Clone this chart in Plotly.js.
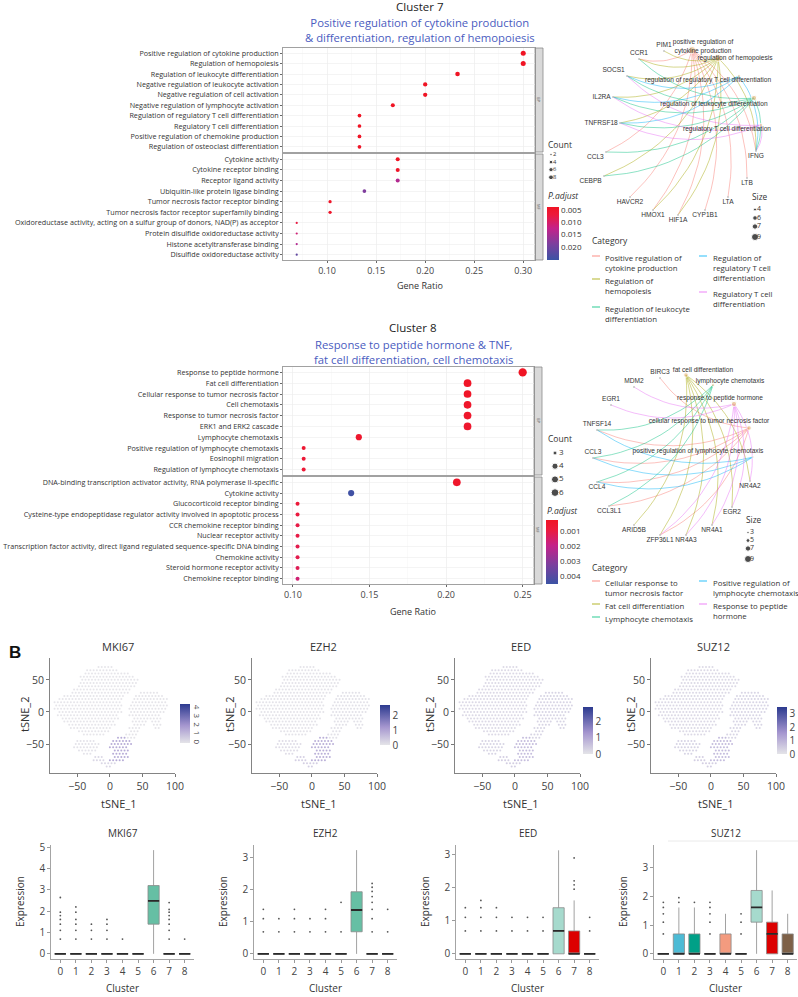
<!DOCTYPE html>
<html><head><meta charset="utf-8">
<script src="https://cdn.plot.ly/plotly-3.0.1.min.js"></script>
<style>html,body{margin:0;padding:0;background:#fff}#chart{width:798px;height:997px}</style>
</head><body><div id="chart"></div>
<script>
// ================= DATA =================
// Cluster 7 enrichment
const c7BpTerms = ['Positive regulation of cytokine production','Regulation of hemopoiesis','Regulation of leukocyte differentiation','Negative regulation of leukocyte activation','Negative regulation of cell activation','Negative regulation of lymphocyte activation','Regulation of regulatory T cell differentiation','Regulatory T cell differentiation','Positive regulation of chemokine production','Regulation of osteoclast differentiation'];
const c7BpRatio = [0.300,0.300,0.233,0.200,0.200,0.167,0.133,0.133,0.133,0.133];
const c7BpCount = [9,9,7,6,6,5,4,4,4,4];
const c7BpPadj  = [0.0022,0.0024,0.0030,0.0032,0.0034,0.0036,0.0038,0.0040,0.0042,0.0044];
const c7MfTerms = ['Cytokine activity','Cytokine receptor binding','Receptor ligand activity','Ubiquitin-like protein ligase binding','Tumor necrosis factor receptor binding','Tumor necrosis factor receptor superfamily binding','Oxidoreductase activity, acting on a sulfur group of donors, NAD(P) as acceptor','Protein disulfide oxidoreductase activity','Histone acetyltransferase binding','Disulfide oxidoreductase activity'];
const c7MfRatio = [0.172,0.172,0.172,0.138,0.103,0.103,0.069,0.069,0.069,0.069];
const c7MfCount = [5,5,5,4,3,3,2,2,2,2];
const c7MfPadj  = [0.0040,0.0045,0.0140,0.0185,0.0045,0.0048,0.0075,0.0110,0.0140,0.0215];
// Cluster 8 enrichment
const c8BpTerms = ['Response to peptide hormone','Fat cell differentiation','Cellular response to tumor necrosis factor','Cell chemotaxis','Response to tumor necrosis factor','ERK1 and ERK2 cascade','Lymphocyte chemotaxis','Positive regulation of lymphocyte chemotaxis','Eosinophil migration','Regulation of lymphocyte chemotaxis'];
const c8BpRatio = [0.250,0.214,0.214,0.214,0.214,0.214,0.143,0.107,0.107,0.107];
const c8BpCount = [7,6,6,6,6,6,4,3,3,3];
const c8BpPadj  = [0.0002,0.0003,0.0003,0.0004,0.0004,0.0005,0.0005,0.0006,0.0007,0.0007];
const c8MfTerms = ['DNA-binding transcription activator activity, RNA polymerase II-specific','Cytokine activity','Glucocorticoid receptor binding','Cysteine-type endopeptidase regulator activity involved in apoptotic process','CCR chemokine receptor binding','Nuclear receptor activity','Transcription factor activity, direct ligand regulated sequence-specific DNA binding','Chemokine activity','Steroid hormone receptor activity','Chemokine receptor binding'];
const c8MfRatio = [0.207,0.138,0.103,0.103,0.103,0.103,0.103,0.103,0.103,0.103];
const c8MfCount = [6,4,3,3,3,3,3,3,3,3];
const c8MfPadj  = [0.0004,0.0044,0.0008,0.0009,0.0010,0.0010,0.0011,0.0011,0.0012,0.0016];
const c7CountLegend = [2,4,6,8];
const c8CountLegend = [3,4,5,6];
const c7PadjTicks = [0.005,0.010,0.015,0.020];
const c8PadjTicks = [0.001,0.002,0.003,0.004];

// Cluster 7 gene-concept network
const net7Genes = ['PIM1','CCR1','SOCS1','IL2RA','TNFRSF18','CCL3','CEBPB','HAVCR2','HMOX1','HIF1A','CYP1B1','LTA','LTB','IFNG'];
const net7GeneX = [664,639,627,613,620,606,604,630,653,678,705,728,747,756];
const net7GeneY = [51,59,76,97,123,152,176,197,210,215,210,197,178,151];
const net7GenePos = ['top center','top center','top left','middle left','middle left','bottom left','bottom left','bottom center','bottom center','bottom center','bottom center','bottom center','bottom center','bottom center'];
const net7Cats = ['Positive regulation of cytokine production','Regulation of hemopoiesis','Regulation of leukocyte differentiation','Regulation of regulatory T cell differentiation','Regulatory T cell differentiation'];
const net7CatLabels = ['positive regulation of<br>cytokine production','regulation of hemopoiesis','regulation of leukocyte differentiation','regulation of regulatory T cell differentiation','regulatory T cell differentiation'];
const net7CatX = [692,718,754,739,761];
const net7CatY = [50,58,98,76,125];
const net7CatLabX = [703,735,714,708,727];
const net7CatLabY = [47,58,104,80,129];
const net7CatCount = [9,9,7,4,4];
const net7Members = [
  ['CCR1','CCL3','HAVCR2','HMOX1','HIF1A','CYP1B1','LTA','LTB','IFNG'],
  ['PIM1','SOCS1','IL2RA','TNFRSF18','CEBPB','HIF1A','IFNG','HMOX1','CCR1'],
  ['CCR1','SOCS1','IL2RA','TNFRSF18','CCL3','CEBPB','IFNG'],
  ['SOCS1','IL2RA','TNFRSF18','IFNG'],
  ['SOCS1','IL2RA','TNFRSF18','IFNG']
];
const net7LegendText = ['Positive regulation of<br>cytokine production','Regulation of<br>hemopoiesis','Regulation of leukocyte<br>differentiation','Regulation of<br>regulatory T cell<br>differentiation','Regulatory T cell<br>differentiation'];
const net7SizeLegend = [4,6,7,9];

// Cluster 8 gene-concept network
const net8Genes = ['BIRC3','MDM2','EGR1','TNFSF14','CCL3','CCL4','CCL3L1','ARID5B','ZFP36L1','NR4A3','NR4A1','EGR2','NR4A2'];
const net8GeneX = [660,634,611,597,593,597,609,634,660,686,712,732,750];
const net8GeneY = [378,387,405,430,458,482,506,525,535,535,525,507,481];
const net8GenePos = ['top center','top center','top center','top center','top center','bottom center','bottom center','bottom center','bottom center','bottom center','bottom center','bottom center','bottom center'];
const net8Cats = ['Cellular response to tumor necrosis factor','Fat cell differentiation','Lymphocyte chemotaxis','Positive regulation of lymphocyte chemotaxis','Response to peptide hormone'];
const net8CatLabels = ['cellular response to tumor necrosis factor','fat cell differentiation','lymphocyte chemotaxis','positive regulation of lymphocyte chemotaxis','response to peptide hormone'];
const net8CatX = [749,686,713,753,734];
const net8CatY = [428,375,385,457,404];
const net8CatLabX = [709,703,730,698,720];
const net8CatLabY = [421,370,381,451,398];
const net8CatCount = [6,6,4,3,7];
const net8Members = [
  ['BIRC3','CCL3','CCL4','CCL3L1','TNFSF14','ZFP36L1'],
  ['ARID5B','EGR2','NR4A1','NR4A2','NR4A3','ZFP36L1'],
  ['CCL3','CCL4','CCL3L1','TNFSF14'],
  ['CCL3','CCL4','TNFSF14'],
  ['MDM2','EGR1','EGR2','NR4A1','NR4A2','NR4A3','ZFP36L1']
];
const net8LegendText = ['Cellular response to<br>tumor necrosis factor','Fat cell differentiation','Lymphocyte chemotaxis','Positive regulation of<br>lymphocyte chemotaxis','Response to peptide<br>hormone'];
const net8SizeLegend = [3,5,7,9];

const tsneRowY = [75,70,65,60,55,50,45,40,35,30,25,20,15,10,5,0,-5,-10,-15,-20,-25,-30,-35,-40,-45,-50,-55,-60,-65,-70,-75,-80,-85];
const tsneRowRuns = ['','a13-17','a10-19','a9-22','a8-24','a8-25','a8-25','a7-24','a6-23','a5-22 b26-31','a3-21 b25-33','a1-20 b24-34','a0-20 b24-34','a0-20 b23-34','a0-20 b23-34','a1-20 b23-33','a1-19 b23-32','a2-19 b24-32','a3-18 b24-28 b30-32','a4-18 b24-27 b30-32','a5-17 b23-26 b31-32','a7-16 b23-25','a9-15 b22-25','c19-21 b22-24','d7-12 c18-23','d6-13 c17-23','d6-13 c17-22','d7-12 c18-22','d9-11 c18-22','e12-14 c18-22','e12-15 c17-21','e14-18','e16-17'];
const tsneGroups = ['a','b','c','d','e'];
const genes = ['MKI67','EZH2','EED','SUZ12'];
const mki67Level = [0.04,0.08,1.70,0.12,0.45];
const ezh2Level  = [0.06,0.10,0.95,0.18,0.40];
const eedLevel   = [0.25,0.35,0.75,0.35,0.45];
const suz12Level = [0.30,0.40,0.95,0.45,0.55];
const tsneMax = [4.5,2.7,2.85,3.5];

// Box plots (expression by cluster)
const clusters = [0,1,2,3,4,5,6,7,8];
const mki67Q1  = [0,0,0,0,0,0,1.39,0,0];
const mki67Med = [0,0,0,0,0,0,2.48,0,0];
const mki67Q3  = [0,0,0,0,0,0,3.20,0,0];
const mki67Lo  = [0,0,0,0,0,0,0,0,0];
const mki67Hi  = [0,0,0,0,0,0,4.86,0,0];
const mki67Out = [[0.69,1.10,1.39,1.61,1.79,1.95,2.64],[0.69,1.10,1.39,1.61,1.95,2.20],[0.69,1.10,1.39],[0.69,1.10,1.39,1.61],[0.69],[],[],[0.69,1.10,1.39,1.61,1.79,1.95,2.08,2.40],[0.69]];
const ezh2Q1  = [0,0,0,0,0,0,0.69,0,0];
const ezh2Med = [0,0,0,0,0,0,1.37,0,0];
const ezh2Q3  = [0,0,0,0,0,0,1.94,0,0];
const ezh2Lo  = [0,0,0,0,0,0,0,0,0];
const ezh2Hi  = [0,0,0,0,0,0,3.24,0,0];
const ezh2Out = [[0.69,1.10,1.39],[0.69,1.10],[0.69,1.10,1.39],[0.69,1.10],[0.69,1.10,1.39],[0.69,1.61],[],[0.69,1.10,1.39,1.61,1.79,1.95,2.08,2.20],[0.69,1.39]];
const eedQ1  = [0,0,0,0,0,0,0,0,0];
const eedMed = [0,0,0,0,0,0,0.69,0,0];
const eedQ3  = [0,0,0,0,0,0,1.39,0.69,0];
const eedLo  = [0,0,0,0,0,0,0,0,0];
const eedHi  = [0,0,0,0,0,0,3.12,1.61,0];
const eedOut = [[0.69,1.10,1.39],[0.69,1.10,1.39,1.61],[0.69,1.10,1.39],[0.69,1.10],[0.69,1.10],[0.69,1.10],[],[1.95,2.08,2.20,2.89],[0.69,1.10]];
const suz12Q1  = [0,0,0,0,0,0,1.10,0,0];
const suz12Med = [0,0,0,0,0,0,1.61,0.69,0];
const suz12Q3  = [0,0.69,0.69,0,0.69,0,2.20,1.10,0.69];
const suz12Lo  = [0,0,0,0,0,0,0,0,0];
const suz12Hi  = [0,1.61,1.61,0,1.39,0,3.60,2.20,1.39];
const suz12Out = [[0.69,1.10,1.39,1.61,1.79],[1.79,1.95],[1.79],[0.69,1.10,1.39,1.61,1.79],[],[0.69,1.10,1.39],[],[],[]];

// ================= RENDER =================
const W=798, H=997;
const X = p => p/W, Y = p => 1 - p/H;
const layout = {width:W,height:H,margin:{l:0,r:0,t:0,b:0},paper_bgcolor:'#fff',plot_bgcolor:'rgba(0,0,0,0)',
  showlegend:false,font:{family:'Open Sans, Noto Sans, sans-serif',color:'#333'},annotations:[],shapes:[],hovermode:false};
const data=[];
function sfx(n){return n===1?'':String(n);}
function setAxes(n,xl,xr,yt,yb,xo,yo){
  const s=sfx(n);
  layout['xaxis'+s]=Object.assign({domain:[xl/W,xr/W],anchor:'y'+s,showgrid:false,zeroline:false,fixedrange:true},xo);
  layout['yaxis'+s]=Object.assign({domain:[1-yb/H,1-yt/H],anchor:'x'+s,showgrid:false,zeroline:false,fixedrange:true},yo);
  return {xaxis:'x'+s,yaxis:'y'+s};
}
function ann(x,y,text,o){layout.annotations.push(Object.assign({xref:'paper',yref:'paper',x:X(x),y:Y(y),text:text,showarrow:false,xanchor:'center',yanchor:'middle',font:{size:9,color:'#333'}},o||{}));}
function rect(x0,y0,x1,y1,fill,line){layout.shapes.push({type:'rect',xref:'paper',yref:'paper',x0:X(x0),x1:X(x1),y0:Y(y1),y1:Y(y0),fillcolor:fill,line:{color:line||fill,width:0.8},layer:'below'});}
function hline(x0,x1,y,color,w){layout.shapes.push({type:'line',xref:'paper',yref:'paper',x0:X(x0),x1:X(x1),y0:Y(y),y1:Y(y),line:{color:color,width:w||1.2}});}

const OV = setAxes(13,0,798,0,997,{range:[0,798],visible:false},{range:[997,0],visible:false});

// ---------- dot plots ----------
const dotScale=[[0,'#3B53A4'],[0.3,'#7B3F9E'],[0.6,'#C4228A'],[0.85,'#EC1A3C'],[1,'#F01424']];
function size7(c){return 2.2+(5.0-2.2)*Math.sqrt(Math.max(0,(c-2)/7));}
function size8(c){return 4.0+(8.3-4.0)*Math.sqrt(Math.max(0,(c-3)/4));}
function dotPanel(n,xl,xr,yt,yb,terms,ratio,count,padj,xrange,xticks,showX,sizeFn,pmin,pmax,cb){
  const ax=setAxes(n,xl,xr,yt,yb,
    {range:xrange,showline:true,mirror:true,linecolor:'#8a8a8a',linewidth:0.8,showgrid:true,gridcolor:'#ececec',gridwidth:0.6,
     tickvals:xticks,ticktext:xticks.map(v=>v.toFixed(2)),showticklabels:showX,ticks:showX?'outside':'',ticklen:2,tickcolor:'#666',
     tickfont:{size:9,color:'#444'},minor:{showgrid:true,gridcolor:'#f6f6f6',dtick:0.025,tick0:0}},
    {type:'category',categoryorder:'array',categoryarray:terms,range:[terms.length-0.5,-0.5],autorange:false,showline:true,mirror:true,
     linecolor:'#8a8a8a',linewidth:0.8,showgrid:true,gridcolor:'#ececec',gridwidth:0.6,ticks:'outside',ticklen:2,tickcolor:'#666',
     tickfont:{size:7.2,color:'#333'}});
  const mk={size:count.map(sizeFn),color:padj.map(p=>-p),cmin:-pmax,cmax:-pmin,colorscale:dotScale,line:{width:0},opacity:1};
  if(cb){mk.showscale=true;mk.colorbar=cb;}
  data.push(Object.assign({type:'scatter',mode:'markers',x:ratio,y:terms,marker:mk,cliponaxis:false},ax));
  rect(xr,yt,xr+8,yb,'#d9d9d9','#8a8a8a');
}
function padjBar(pticks,yTop,yBot,xLeft){
  return {x:X(xLeft),xanchor:'left',xpad:0,y:Y((yTop+yBot)/2),yanchor:'middle',ypad:0,len:yBot-yTop,lenmode:'pixels',
    thickness:12,thicknessmode:'pixels',outlinewidth:0,ticks:'',tickvals:pticks.map(v=>-v),ticktext:pticks.map(v=>v.toFixed(3)),
    tickfont:{size:8,color:'#333'}};
}
dotPanel(1,283,535,48,152,c7BpTerms,c7BpRatio,c7BpCount,c7BpPadj,[0.055,0.312],[0.10,0.15,0.20,0.25,0.30],false,size7,0.0038,0.0253,null);
dotPanel(2,283,535,154,260,c7MfTerms,c7MfRatio,c7MfCount,c7MfPadj,[0.055,0.312],[0.10,0.15,0.20,0.25,0.30],true,size7,0.0038,0.0253,padjBar(c7PadjTicks,207,260,547));
dotPanel(3,283,534,367,475,c8BpTerms,c8BpRatio,c8BpCount,c8BpPadj,[0.0935,0.2574],[0.10,0.15,0.20,0.25],false,size8,0.00022,0.0045,null);
dotPanel(4,283,534,477,584,c8MfTerms,c8MfRatio,c8MfCount,c8MfPadj,[0.0935,0.2574],[0.10,0.15,0.20,0.25],true,size8,0.00022,0.0045,padjBar(c8PadjTicks,520,584,546));

ann(420,6,'Cluster 7',{font:{size:11.5,color:'#222'}});
ann(420,30,'Positive regulation of cytokine production<br>& differentiation, regulation of hemopoiesis',{font:{size:11.3,color:'#4a5cc0'}});
ann(420,286,'Gene Ratio',{font:{size:9,color:'#333'}});
ann(413,327,'Cluster 8',{font:{size:11.5,color:'#222'}});
ann(413,352,'Response to peptide hormone & TNF,<br>fat cell differentiation, cell chemotaxis',{font:{size:11.3,color:'#4a5cc0'}});
ann(413,611,'Gene Ratio',{font:{size:9,color:'#333'}});
ann(539,100,'BP',{font:{size:4,color:'#555'},textangle:90});
ann(539,207,'MF',{font:{size:4,color:'#555'},textangle:90});
ann(538,421,'BP',{font:{size:4,color:'#555'},textangle:90});
ann(538,530,'MF',{font:{size:4,color:'#555'},textangle:90});

function countLegend(vals,sizeFn,x,y0,dy,lx,titleX,titleY,fs){
  const ys=vals.map((v,i)=>y0+i*dy);
  data.push(Object.assign({type:'scatter',mode:'markers',x:vals.map(()=>x),y:ys,marker:{size:vals.map(sizeFn),color:'#000'},cliponaxis:false},OV));
  data.push(Object.assign({type:'scatter',mode:'text',x:vals.map(()=>lx),y:ys,text:vals.map(String),textposition:'middle right',textfont:{size:fs,color:'#333'},cliponaxis:false},OV));
  ann(titleX,titleY,'Count',{xanchor:'left',font:{size:8.5,color:'#333'}});
}
countLegend(c7CountLegend,size7,551,154.5,7.6,553,546,145,5.8);
ann(546,195,'<i>P.adjust</i>',{xanchor:'left',font:{size:8.5,color:'#333'}});
countLegend(c8CountLegend,size8,555,453,13.2,559,546,438,8);
ann(545,511,'<i>P.adjust</i>',{xanchor:'left',font:{size:8.5,color:'#333'}});

// ---------- networks ----------
const catColors=['248,118,109','163,165,0','0,191,125','0,176,246','231,107,243'];
function nodeSize(c){return Math.max(2.2,0.8*c-0.2);}
function arcPts(x0,y0,x1,y1,k){
  const mx=(x0+x1)/2,my=(y0+y1)/2,dx=x1-x0,dy=y1-y0,cx=mx-k*dy,cy=my+k*dx,xs=[],ys=[];
  for(let i=0;i<=16;i++){const t=i/16,a=(1-t)*(1-t),b=2*(1-t)*t,c=t*t;xs.push(a*x0+b*cx+c*x1);ys.push(a*y0+b*cy+c*y1);}
  return [xs,ys];
}
function network(genesN,gx,gy,gpos,cx,cy,ccount,members,labels,lx,ly){
  members.forEach((mem,ci)=>{
    const xs=[],ys=[];
    mem.forEach(g=>{const gi=genesN.indexOf(g);const p=arcPts(gx[gi],gy[gi],cx[ci],cy[ci],0.22);xs.push(...p[0],null);ys.push(...p[1],null);});
    data.push(Object.assign({type:'scatter',mode:'lines',x:xs,y:ys,line:{color:'rgba('+catColors[ci]+',0.6)',width:0.75},cliponaxis:false},OV));
  });
  data.push(Object.assign({type:'scatter',mode:'markers+text',x:gx,y:gy,text:genesN,textposition:gpos,marker:{size:2,color:'#c8c8c8'},
    textfont:{family:'Liberation Sans, Arial, sans-serif',size:6.6,color:'#333'},cliponaxis:false},OV));
  data.push(Object.assign({type:'scatter',mode:'markers',x:cx,y:cy,marker:{size:ccount.map(nodeSize),color:'#e8bd86'},cliponaxis:false},OV));
  data.push(Object.assign({type:'scatter',mode:'text',x:lx,y:ly,text:labels,textposition:'middle center',
    textfont:{family:'Liberation Sans, Arial, sans-serif',size:6.6,color:'#333'},cliponaxis:false},OV));
}
network(net7Genes,net7GeneX,net7GeneY,net7GenePos,net7CatX,net7CatY,net7CatCount,net7Members,net7CatLabels,net7CatLabX,net7CatLabY);
network(net8Genes,net8GeneX,net8GeneY,net8GenePos,net8CatX,net8CatY,net8CatCount,net8Members,net8CatLabels,net8CatLabX,net8CatLabY);

function sizeLegend(vals,x,ys,lx,tx,ty){
  data.push(Object.assign({type:'scatter',mode:'markers',x:vals.map(()=>x),y:ys,marker:{size:vals.map(nodeSize),color:'#000'},cliponaxis:false},OV));
  data.push(Object.assign({type:'scatter',mode:'text',x:vals.map(()=>lx),y:ys,text:vals.map(String),textposition:'middle right',textfont:{size:7,color:'#333'},cliponaxis:false},OV));
  ann(tx,ty,'Size',{xanchor:'left',font:{size:8.3,color:'#333'}});
}
sizeLegend(net7SizeLegend,755,[209.5,218,226.5,237],757,750,196.5);
sizeLegend(net8SizeLegend,748,[532.5,540.5,548.5,559],750,744,519.5);

function catLegend(texts,ys,cols,titleY){
  ann(590,titleY,'Category',{xanchor:'left',font:{size:8.5,color:'#333'}});
  texts.forEach((t,i)=>{
    const gx=cols[i]===0?592:699, tx=cols[i]===0?603:711;
    hline(gx,gx+8,ys[i],'rgba('+catColors[i]+',0.6)',1.4);
    ann(tx,ys[i]-5.5,t,{xanchor:'left',yanchor:'top',align:'left',font:{size:7.8,color:'#333'}});
  });
}
catLegend(net7LegendText,[256,279,307,256,292],[0,0,0,1,1],241);
catLegend(net8LegendText,[581,604,617,581,604],[0,0,0,1,1],567);

// ---------- section B ----------
ann(15,652,'<b>B</b>',{font:{family:'Liberation Sans, Arial, sans-serif',size:17,color:'#111'}});
const tsneScale=[[0,'#e4e4e8'],[0.45,'#a596cf'],[1,'#2c3a8f']];
const levelsAll=[mki67Level,ezh2Level,eedLevel,suz12Level];
const tsneLeft=[50,252,455,651];
const tsneCb=[{x:180,t:704,b:743,ang:90},{x:380,t:705,b:745,ang:0},{x:583,t:707,b:754,ang:0},{x:777,t:707,b:754,ang:0}];
const tsneTitleX=[118,323,521,713], tsneLabX=[118,318,520,715], tsne2X=[24,229,429,630];
const tx=[],ty=[],tg=[];
tsneRowRuns.forEach((r,j)=>{
  if(!r) return;
  r.split(' ').forEach(run=>{
    const g=tsneGroups.indexOf(run[0]);const [a,b]=run.slice(1).split('-').map(Number);
    for(let i=a;i<=b;i++){tx.push(-85+5*i+(j%2?2.5:0));ty.push(tsneRowY[j]);tg.push(g);}
  });
});
genes.forEach((gname,k)=>{
  const n=5+k, xl=tsneLeft[k];
  const ax=setAxes(n,xl,xl+125,658,773,
    {range:[-92,100],showline:true,linecolor:'#777',linewidth:0.9,ticks:'outside',ticklen:3,tickcolor:'#777',tickvals:[-50,0,50,100],tickfont:{size:10.5,color:'#444'}},
    {range:[-95,84],showline:true,linecolor:'#777',linewidth:0.9,ticks:'outside',ticklen:3,tickcolor:'#777',tickvals:[-50,0,50],tickfont:{size:10.5,color:'#444'}});
  const cb=tsneCb[k], mx=Math.floor(tsneMax[k]);
  const ticks=[];for(let v=0;v<=mx;v++)ticks.push(v);
  data.push(Object.assign({type:'scatter',mode:'markers',x:tx,y:ty,
    marker:{size:2,opacity:0.9,color:tg.map(g=>levelsAll[k][g]),cmin:0,cmax:tsneMax[k],colorscale:tsneScale,showscale:true,
      colorbar:{x:X(cb.x),xanchor:'left',xpad:0,y:Y((cb.t+cb.b)/2),yanchor:'middle',ypad:0,len:cb.b-cb.t,lenmode:'pixels',thickness:10,
        thicknessmode:'pixels',outlinewidth:0,ticks:'',tickvals:ticks,tickangle:cb.ang,tickfont:{size:cb.ang?8:10,color:'#444'}}}},ax));
  ann(tsneTitleX[k],646,gname,{font:{size:11,color:'#333'}});
  ann(tsneLabX[k],803,'tSNE_1',{font:{size:11,color:'#333'}});
  ann(tsne2X[k],715,'tSNE_2',{textangle:-90,font:{size:11,color:'#333'}});
});

const clusterFill=['#E64B35','#4DBBD5','#00A087','#3C5488','#F39B7F','#8491B4','#91D1C2','#DC0000','#7E6148'];
const boxSets=[[mki67Q1,mki67Med,mki67Q3,mki67Lo,mki67Hi,mki67Out],[ezh2Q1,ezh2Med,ezh2Q3,ezh2Lo,ezh2Hi,ezh2Out],[eedQ1,eedMed,eedQ3,eedLo,eedHi,eedOut],[suz12Q1,suz12Med,suz12Q3,suz12Lo,suz12Hi,suz12Out]];
const boxLeft=[51,254,456,654];
const boxYRange=[[-0.243,5.10],[-0.16,3.40],[-0.156,3.28],[-0.18,3.78]];
const boxYTicks=[[0,1,2,3,4,5],[0,1,2,3],[0,1,2,3],[0,1,2,3]];
const six=['#66bfa4','#66bfa4','#a6dacd','#a6dacd'];
genes.forEach((gname,k)=>{
  const n=9+k, xl=boxLeft[k], s=boxSets[k];
  const ax=setAxes(n,xl,xl+143,845,959,
    {range:[-0.6,8.6],showline:true,linecolor:'#9a9a9a',linewidth:0.9,ticks:'outside',ticklen:3,tickcolor:'#9a9a9a',tickvals:clusters,tickfont:{size:10,color:'#444'}},
    {range:boxYRange[k],showline:true,linecolor:'#9a9a9a',linewidth:0.9,ticks:'outside',ticklen:3,tickcolor:'#9a9a9a',tickvals:boxYTicks[k],tickfont:{size:10,color:'#444'}});
  clusters.forEach((c,i)=>{
    const fill=i===6?six[k]:clusterFill[i];
    data.push(Object.assign({type:'box',x:[c],q1:[s[0][i]],median:[s[1][i]],q3:[s[2][i]],lowerfence:[s[3][i]],upperfence:[s[4][i]],
      fillcolor:fill,line:{color:'#8a8a8a',width:0.8},whiskerwidth:0,width:0.72,boxpoints:false},ax));
    data.push(Object.assign({type:'box',x:[c],q1:[s[1][i]],median:[s[1][i]],q3:[s[1][i]],lowerfence:[s[1][i]],upperfence:[s[1][i]],
      fillcolor:'rgba(0,0,0,0)',line:{color:'#2a2a2a',width:1.8},whiskerwidth:0,width:0.72,boxpoints:false},ax));
  });
  const ox=[],oy=[];
  s[5].forEach((arr,i)=>arr.forEach(v=>{ox.push(clusters[i]);oy.push(v);}));
  data.push(Object.assign({type:'scatter',mode:'markers',x:ox,y:oy,marker:{size:1.8,color:'#555'}},ax));
  ann(xl+71.5,833,gname,{font:{size:10,color:'#333'}});
  ann(xl+71.5,988,'Cluster',{font:{size:10,color:'#333'}});
  ann(xl-31,902,'Expression',{textangle:-90,font:{size:10,color:'#333'}});
});
hline(668,798,841,'#e4e4e4',0.8);

Plotly.newPlot('chart',data,layout,{staticPlot:true,displayModeBar:false});
</script></body></html>
